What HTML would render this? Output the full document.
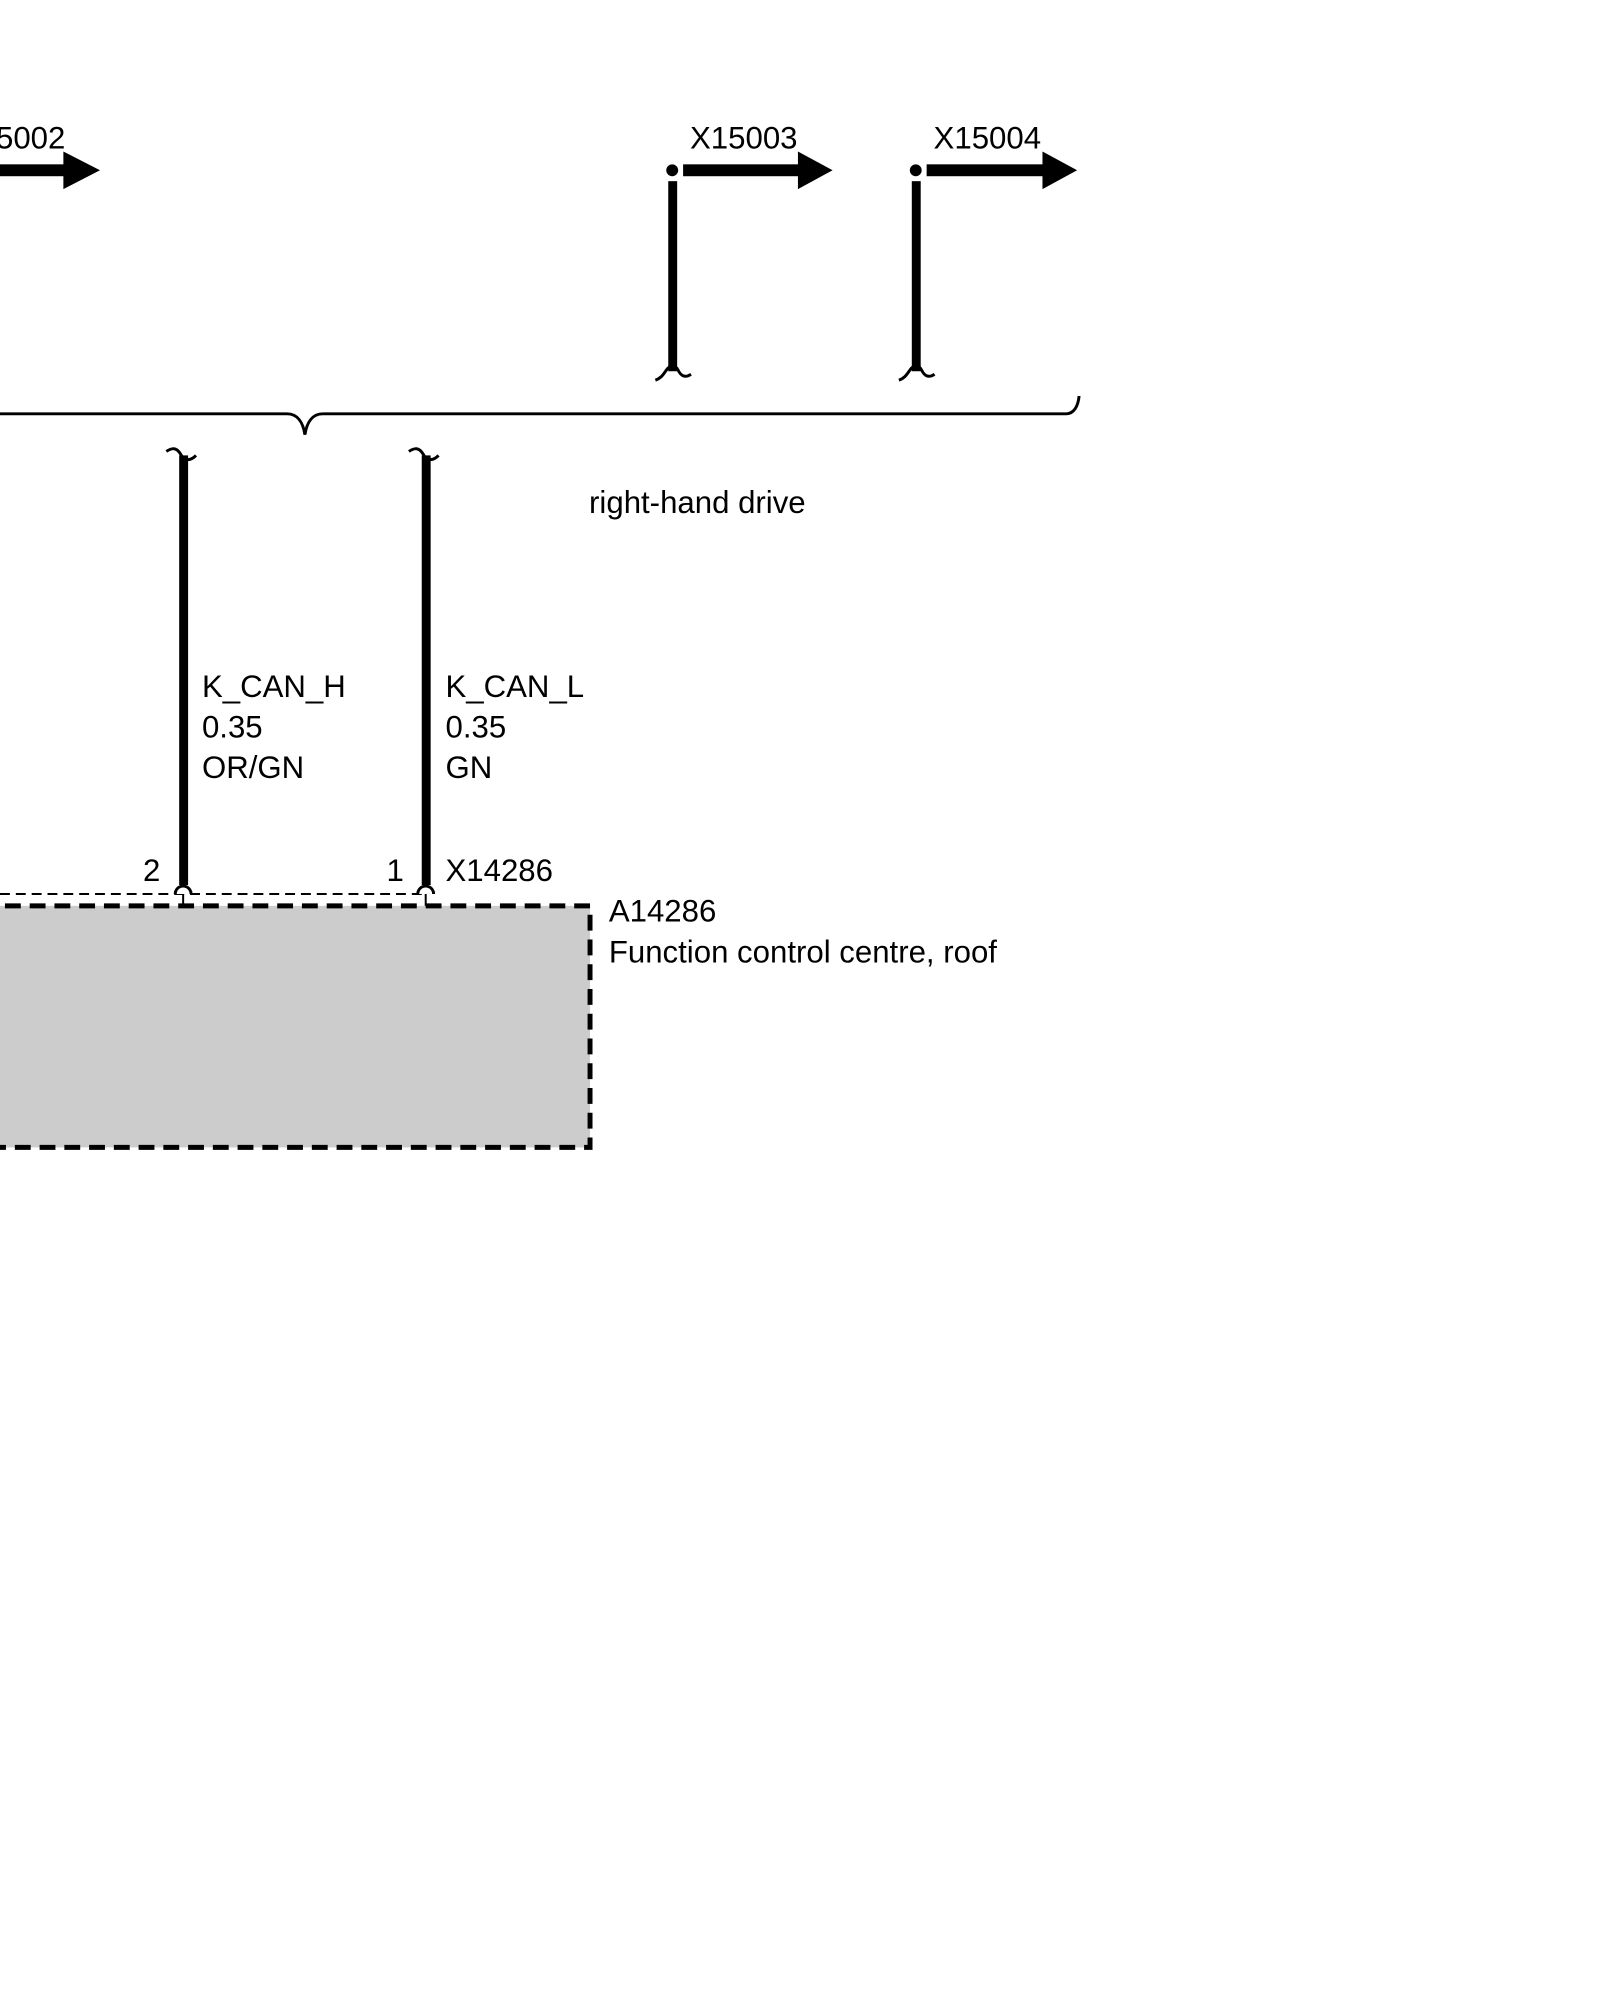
<!DOCTYPE html>
<html><head><meta charset="utf-8"><style>
html,body{margin:0;padding:0;background:#fff;}
svg{display:block;}
text{font-family:"Liberation Sans",Arial,sans-serif;font-size:31.5px;fill:#000;}
</style></head><body>
<svg width="1600" height="2000" viewBox="0 0 1600 2000" xmlns="http://www.w3.org/2000/svg">
<g transform="scale(0.99)">
<!-- top arrows -->
<text x="66" y="150" text-anchor="end">X15002</text>
<rect x="0" y="166" width="66" height="12" fill="#000"/>
<polygon points="64,153 101,172 64,191" fill="#000"/>

<text x="697" y="150">X15003</text>
<circle cx="679" cy="172" r="6" fill="#000"/>
<rect x="690" y="166" width="118" height="12" fill="#000"/>
<polygon points="806,153 841,172 806,191" fill="#000"/>
<rect x="675" y="183" width="9" height="192" fill="#000"/>
<path d="M662,384 C668,382 670,378 673,374 C677,368 682,368 685,374 C688,380 692,382 698,378" fill="none" stroke="#000" stroke-width="3"/>

<text x="943" y="150">X15004</text>
<circle cx="925" cy="172" r="6" fill="#000"/>
<rect x="936" y="166" width="119" height="12" fill="#000"/>
<polygon points="1053,153 1088,172 1053,191" fill="#000"/>
<rect x="921" y="183" width="9" height="192" fill="#000"/>
<path d="M908,384 C914,382 916,378 919,374 C923,368 928,368 931,374 C934,380 938,382 944,378" fill="none" stroke="#000" stroke-width="3"/>

<!-- brace -->
<path d="M0,418 L290,418 C300,418 306,426 308,439 C310,426 316,418 326,418 L1077,418 C1085,418 1089,410 1090,400" fill="none" stroke="#000" stroke-width="3"/>

<!-- lower wires -->
<path d="M168,456 C174,452 178,452 182,458 C186,466 192,466 198,460" fill="none" stroke="#000" stroke-width="3"/>
<rect x="181" y="460" width="9" height="434" fill="#000"/>
<path d="M413,456 C419,452 423,452 427,458 C431,466 437,466 443,460" fill="none" stroke="#000" stroke-width="3"/>
<rect x="426" y="460" width="9" height="434" fill="#000"/>

<text x="595" y="518">right-hand drive</text>
<text x="204" y="704">K_CAN_H</text>
<text x="204" y="745">0.35</text>
<text x="204" y="786">OR/GN</text>
<text x="450" y="704">K_CAN_L</text>
<text x="450" y="745">0.35</text>
<text x="450" y="786">GN</text>
<text x="162" y="890" text-anchor="end">2</text>
<text x="408" y="890" text-anchor="end">1</text>
<text x="450" y="890">X14286</text>

<!-- box -->
<rect x="-20" y="915" width="616" height="244" fill="#cccccc" stroke="#000" stroke-width="5" stroke-dasharray="16,9"/>
<line x1="0" y1="903" x2="430" y2="903" stroke="#000" stroke-width="2" stroke-dasharray="10,6"/>
<path d="M177,903 A8,8 0 0 1 193,903" fill="#fff" stroke="#000" stroke-width="3"/>
<path d="M422,903 A8,8 0 0 1 438,903" fill="#fff" stroke="#000" stroke-width="3"/>
<line x1="185" y1="903" x2="185" y2="915" stroke="#000" stroke-width="2"/>
<line x1="430" y1="903" x2="430" y2="915" stroke="#000" stroke-width="2"/>
<text x="615" y="931">A14286</text>
<text x="615" y="972">Function control centre, roof</text>
</g>
</svg>
</body></html>
